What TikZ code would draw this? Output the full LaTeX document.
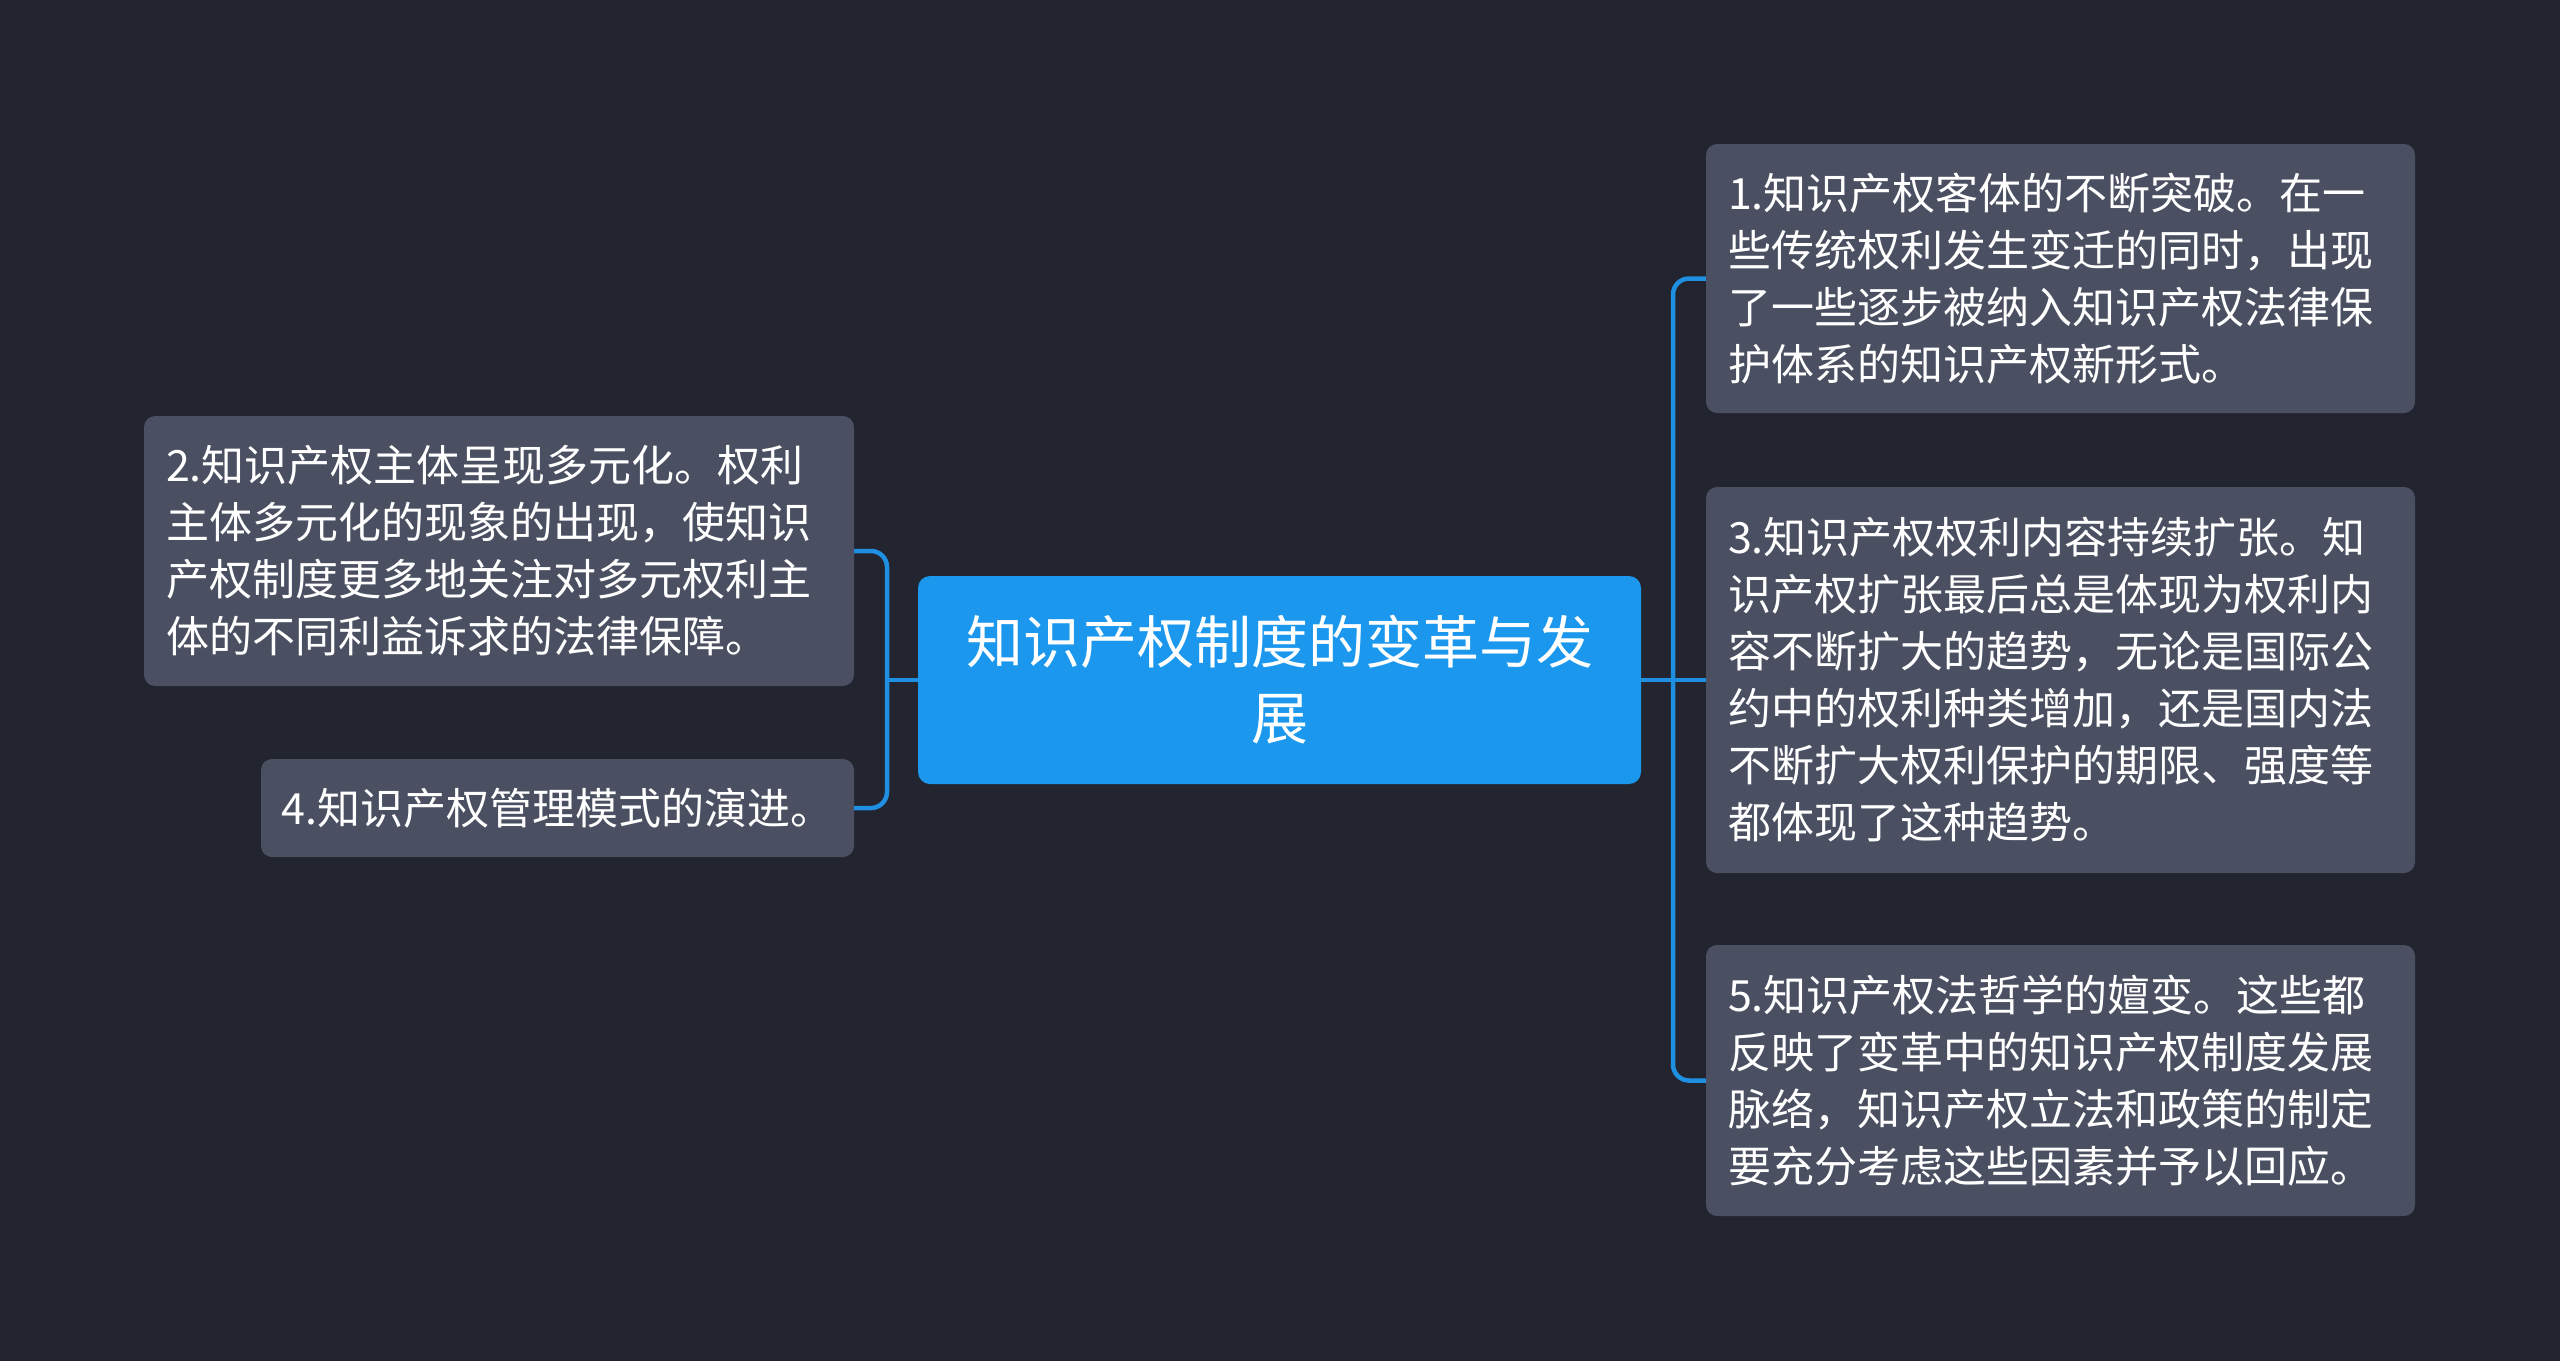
\documentclass[tikz,border=0pt]{standalone}
\usepackage{fontspec}
\setmainfont{Noto Sans CJK SC}
\definecolor{bgc}{HTML}{22252F}
\definecolor{boxc}{HTML}{4A5061}
\definecolor{mainc}{HTML}{1B98EE}
\definecolor{linec}{HTML}{1E8FE1}
\begin{document}
\begin{tikzpicture}[x=1pt,y=-1pt,
  leaf/.style={fill=boxc, rounded corners=11pt, text=white, inner sep=0pt, align=left,
    font=\fontsize{43}{57}\selectfont},
  rootbox/.style={fill=mainc, rounded corners=12pt, text=white, inner sep=0pt, align=center,
    font=\fontsize{57}{76}\selectfont, minimum width=723pt, minimum height=208pt},
  conn/.style={draw=linec, line width=4.5pt, rounded corners=16pt}]
\fill[bgc] (0,0) rectangle (2560,1361);
\useasboundingbox (0,0) rectangle (2560,1361);

\node[rootbox] (root) at (1279.5,680) {知识产权制度的变革与发\\展};

\node[leaf, minimum width=710pt, minimum height=270pt, text width=666pt] (n2) at (499,551)
  {2.知识产权主体呈现多元化。权利\\主体多元化的现象的出现，使知识\\产权制度更多地关注对多元权利主\\体的不同利益诉求的法律保障。};
\node[leaf, minimum width=593pt, minimum height=98pt, align=center] (n4) at (557.5,808)
  {4.知识产权管理模式的演进。};

\node[leaf, minimum width=709pt, minimum height=269pt, text width=665pt] (n1) at (2060.5,278.5)
  {1.知识产权客体的不断突破。在一\\些传统权利发生变迁的同时，出现\\了一些逐步被纳入知识产权法律保\\护体系的知识产权新形式。};
\node[leaf, minimum width=709pt, minimum height=386pt, text width=665pt] (n3) at (2060.5,680)
  {3.知识产权权利内容持续扩张。知\\识产权扩张最后总是体现为权利内\\容不断扩大的趋势，无论是国际公\\约中的权利种类增加，还是国内法\\不断扩大权利保护的期限、强度等\\都体现了这种趋势。};
\node[leaf, minimum width=709pt, minimum height=271pt, text width=665pt] (n5) at (2060.5,1080.5)
  {5.知识产权法哲学的嬗变。这些都\\反映了变革中的知识产权制度发展\\脉络，知识产权立法和政策的制定\\要充分考虑这些因素并予以回应。};

\coordinate (lt) at (887,680);
\coordinate (rt) at (1673,680);
\draw[conn] (root.west) -- (lt);
\draw[conn] (n2.east) -- (lt |- n2.east) -- (lt |- n4.east) -- (n4.east);
\draw[conn] (root.east) -- (n3.west);
\draw[conn] (n1.west) -- (rt |- n1.west) -- (rt |- n5.west) -- (n5.west);
\end{tikzpicture}
\end{document}
